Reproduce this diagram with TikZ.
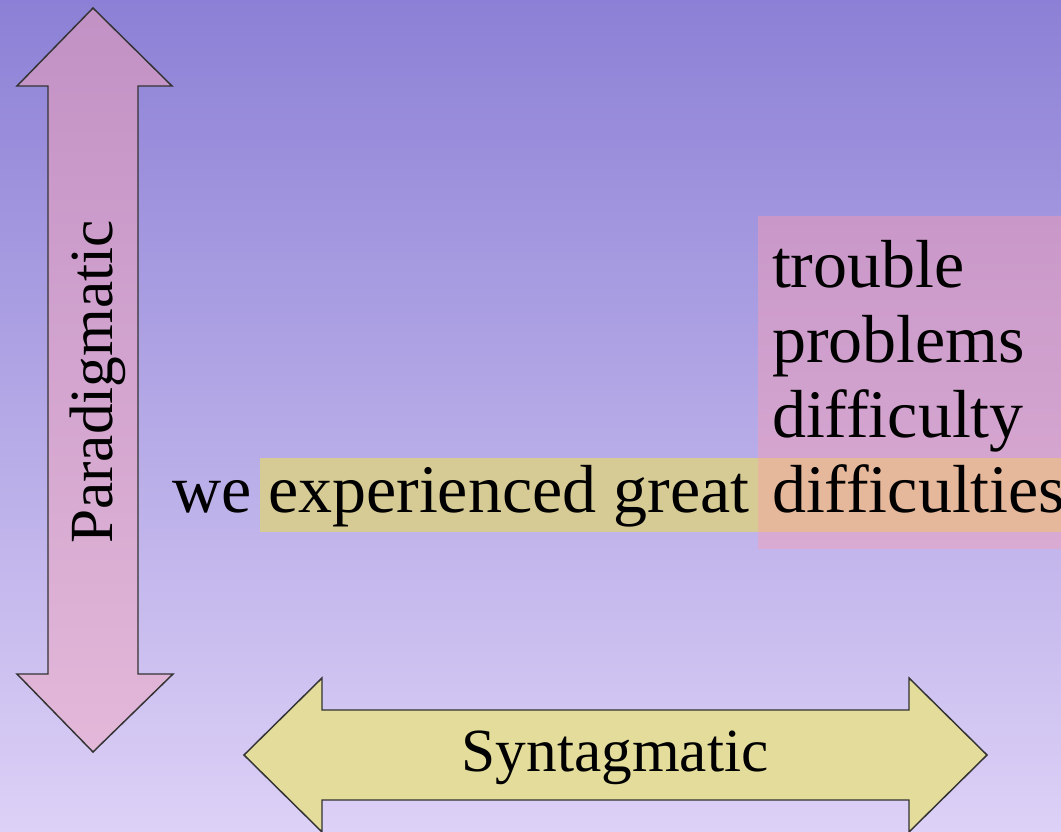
\documentclass[tikz,border=0pt]{standalone}
\usepackage{fontspec}
\setmainfont{Liberation Serif}
\definecolor{bgtop}{HTML}{8C80D6}
\definecolor{bgbot}{HTML}{DDD1F7}
\definecolor{vtop}{HTML}{C291C5}
\definecolor{vbot}{HTML}{E3B8D9}
\definecolor{harrow}{HTML}{E3DC9A}
\definecolor{hlyellow}{HTML}{D6CB94}
\definecolor{hlpinktop}{HTML}{C998C9}
\definecolor{hlpinkbot}{HTML}{D9AAD2}
\definecolor{hlorange}{HTML}{E6B89B}
\definecolor{edge}{HTML}{333333}
\tikzset{
  arrowshape/.style={draw=edge, line width=1.1pt, line join=miter},
  word/.style={inner sep=0pt, outer sep=0pt, font=\fontsize{51}{60}\selectfont, text=black},
  axislabel/.style={inner sep=0pt, outer sep=0pt, font=\fontsize{46}{54}\selectfont, text=black}
}
\begin{document}
\begin{tikzpicture}[x=0.75pt,y=-0.75pt]
\useasboundingbox (0,0) rectangle (1061,832);
% background
\shade[top color=bgtop, bottom color=bgbot] (0,0) rectangle (1061,832);
% highlights
\fill[hlyellow] (260,458) rectangle (758,532);
\shade[top color=hlpinktop, bottom color=hlpinkbot] (758,216) rectangle (1061,548);
\fill[hlorange] (758,458) rectangle (1061,532);
% vertical double arrow
\path[arrowshape, top color=vtop, bottom color=vbot]
  (93,8) -- (172,86) -- (138,86) -- (138,674) -- (173,674) -- (93,752)
  -- (17,674) -- (48,674) -- (48,86) -- (17,86) -- cycle;
% horizontal double arrow
\path[arrowshape, fill=harrow]
  (244,755) -- (322,678) -- (322,710) -- (909,710) -- (909,678) -- (987,755)
  -- (909,832) -- (909,800) -- (322,800) -- (322,832) -- cycle;
% labels
\node[axislabel, rotate=90, anchor=base] (para) at (112,382) {Paradigmatic};
\node[axislabel, anchor=base] (synt) at (615,771) {Syntagmatic};
% words
\node[word, anchor=base west] (we) at (172,512) {we};
\node[word, anchor=base west] (exp) at (268,512) {experienced great};
\node[word, anchor=base west] (d4) at (772,512) {difficulties};
\node[word, anchor=base west] (d1) at (772,287) {trouble};
\node[word, anchor=base west] (d2) at (772,362) {problems};
\node[word, anchor=base west] (d3) at (772,437) {difficulty};
\end{tikzpicture}
\end{document}
